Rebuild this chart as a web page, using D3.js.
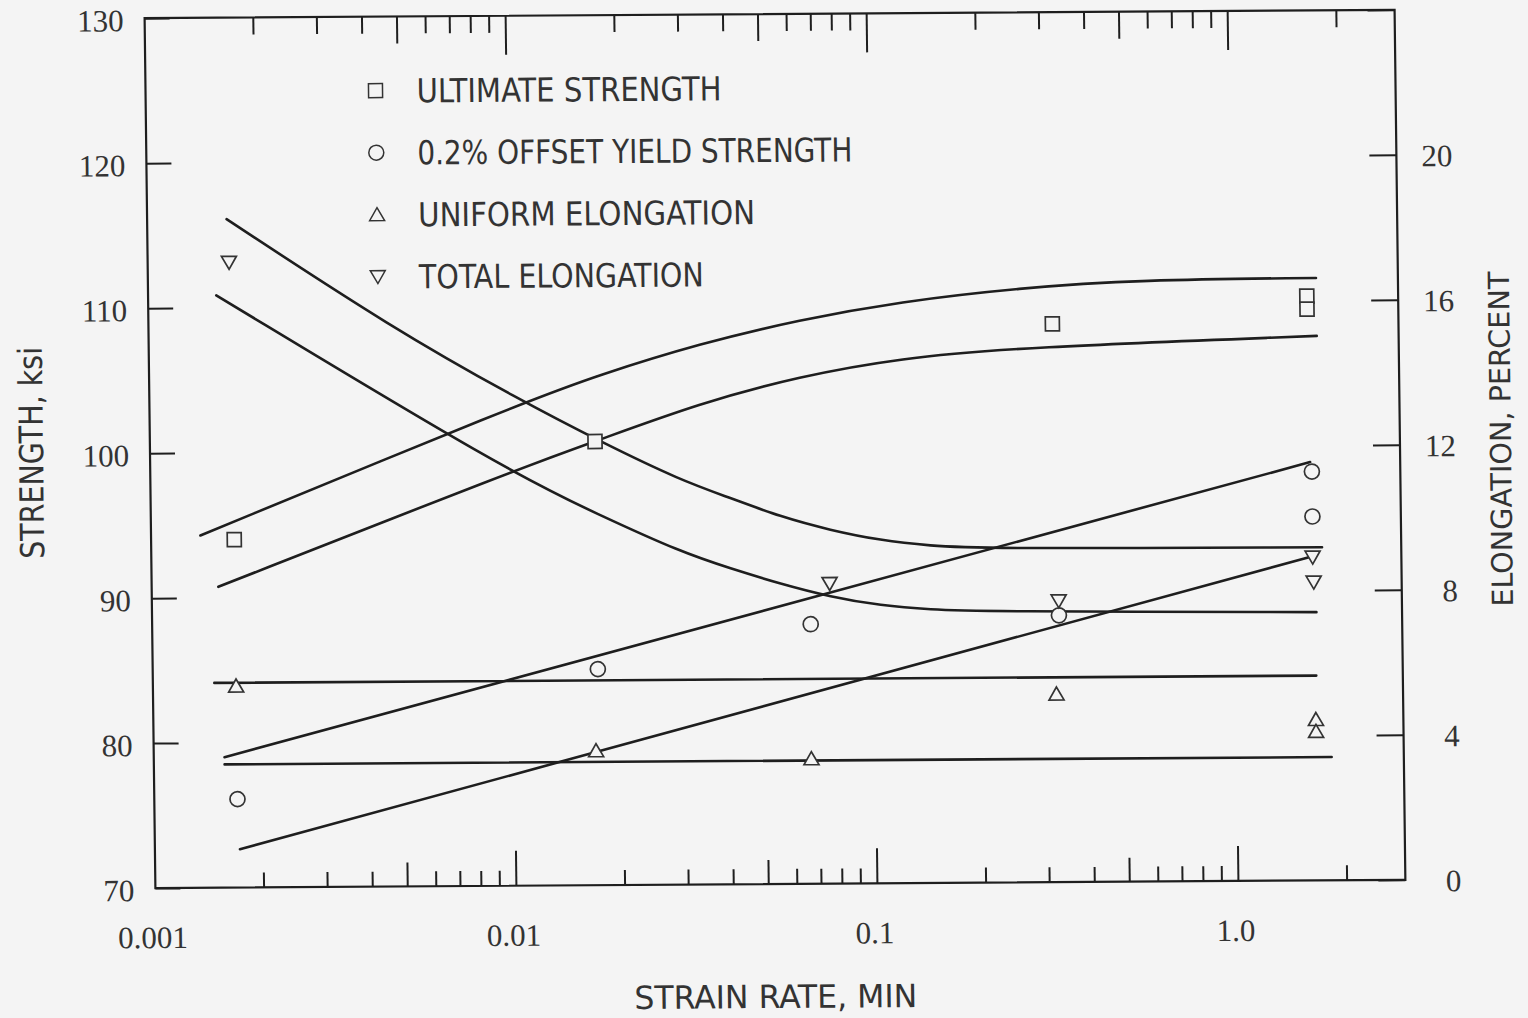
<!DOCTYPE html>
<html>
<head>
<meta charset="utf-8">
<script src="https://cdn.jsdelivr.net/npm/d3@7"></script>
<style>
  html, body { margin: 0; padding: 0; background: #f4f4f4; }
  svg { display: block; }
</style>
</head>
<body>
<svg id="chart" width="1528" height="1018"></svg>
<script>
// ---- axis ticks and labels ----
const xTickValues = [0.001, 0.01, 0.1, 1.0];
const xTickLabels = ["0.001", "0.01", "0.1", "1.0"];
const ksiTicks = [70, 80, 90, 100, 110, 120, 130];
const elongTicks = [0, 4, 8, 12, 16, 20, 24];
const elongLabels = ["0", "4", "8", "12", "16", "20", ""];

// ---- measured points (strain rate, 1/min) ----
const ultimateRate = [0.0017, 0.0171, 0.319, 1.62, 1.62];
const ultimateKsi  = [94.0, 100.6, 108.5, 110.3, 109.4];
const yieldRate    = [0.0017, 0.0171, 0.0667, 0.325, 1.65, 1.65];
const yieldKsi     = [76.1, 84.9, 87.9, 88.4, 98.2, 95.1];
const uniformRate  = [0.0017, 0.0168, 0.0663, 0.318, 1.66, 1.66];
const uniformPct   = [5.56, 3.71, 3.45, 5.19, 4.44, 4.11];
const totalRate    = [0.00168, 0.0755, 0.325, 1.647, 1.655];
const totalPct     = [17.25, 8.28, 7.76, 8.92, 8.23];

// ---- scatter-band curves: [strain rate, value] ----
const ultimateUpper = [[0.00137, 94.3], [0.01076, 103.3], [0.0177, 105.2], [0.0336, 107.3],
  [0.0636, 108.9], [0.1205, 110.1], [0.259, 111.0], [0.557, 111.5], [1.72, 111.55]];
const ultimateLower = [[0.00153, 90.75], [0.01058, 98.8], [0.0171, 100.6], [0.0335, 103.2],
  [0.0634, 105.0], [0.120, 106.2], [0.258, 106.9], [1.72, 107.55]];
const yieldUpper = [[0.00157, 79.0], [1.633, 98.85]];
const yieldLower = [[0.00172, 72.64], [1.647, 92.36]];
const totalUpper = [[0.00166, 18.44], [0.00474, 15.4], [0.01062, 13.4], [0.01798, 12.2],
  [0.02935, 11.16], [0.04033, 10.66], [0.05543, 10.13], [0.07621, 9.75], [0.1047, 9.46],
  [0.144, 9.30], [0.1982, 9.21], [1.75, 9.19]];
const totalLower = [[0.001545, 16.34], [0.00973, 11.44], [0.01759, 10.2], [0.02923, 9.18],
  [0.04021, 8.71], [0.05522, 8.28], [0.07591, 7.91], [0.1044, 7.66], [0.1437, 7.54],
  [0.1975, 7.48], [1.68, 7.4]];
const uniformUpper = [[0.00148, 5.65], [1.67, 5.65]];
const uniformLower = [[0.00157, 3.4], [1.83, 3.4]];

const legendLabels = ["ULTIMATE STRENGTH", "0.2% OFFSET YIELD STRENGTH", "UNIFORM ELONGATION", "TOTAL ELONGATION"];
const legendWidths = [305, 435, 337, 285];

// ---- layout ----
const W = 1528, H = 1018;
const plotL = 150, plotR = 1400, plotT = 14, plotB = 884;
const ink = "#1e1e1e", textInk = "#333333", bg = "#f4f4f4";
const sansFont = "'Liberation Sans Narrow','DejaVu Sans Condensed','Liberation Sans',Arial,sans-serif";
const serifFont = "'Liberation Serif','DejaVu Serif',serif";

const x = d3.scaleLog().domain([0.001, 2.9]).range([plotL, plotR]);
const y = d3.scaleLinear().domain([70, 130]).range([plotB, plotT]);
const yE = d3.scaleLinear().domain([0, 24]).range([plotB, plotT]);

const svg = d3.select("#chart");
svg.append("rect").attr("width", W).attr("height", H).attr("fill", bg);

// the printed sheet sits slightly tilted and sheared
const g = svg.append("g")
  .attr("transform", "rotate(-0.38 774 450) translate(774 450) skewX(0.33) translate(-774 -450)");

// frame
g.append("rect")
  .attr("x", plotL).attr("y", plotT)
  .attr("width", plotR - plotL).attr("height", plotB - plotT)
  .attr("fill", "none").attr("stroke", ink).attr("stroke-width", 2.2);

// log ticks on bottom and top edges
const logTicks = x.ticks().filter(t => t > 0.0011);
function mantissa(t) { return Math.round(t / Math.pow(10, Math.floor(Math.log10(t) + 1e-9))); }
const bottomLen = t => { const m = mantissa(t); return m === 1 ? 35 : m === 5 ? 24 : 15; };
const topLen = t => { const m = mantissa(t); return m === 1 ? 39 : m === 5 ? 27 : 17; };

g.append("g").selectAll("line").data(logTicks).join("line")
  .attr("x1", d => x(d)).attr("x2", d => x(d))
  .attr("y1", plotB).attr("y2", d => plotB - bottomLen(d))
  .attr("stroke", ink).attr("stroke-width", 2);
g.append("g").selectAll("line").data(logTicks).join("line")
  .attr("x1", d => x(d)).attr("x2", d => x(d))
  .attr("y1", plotT).attr("y2", d => plotT + topLen(d))
  .attr("stroke", ink).attr("stroke-width", 2);

// x labels
g.append("g").selectAll("text").data(xTickValues).join("text")
  .attr("x", d => x(d) - 3).attr("y", 944)
  .attr("text-anchor", "middle")
  .attr("font-family", serifFont).attr("font-size", 31).attr("fill", textInk)
  .text((d, i) => xTickLabels[i]);

// left axis: inward ticks + labels
const leftAxis = d3.axisLeft(y).tickValues(ksiTicks).tickSize(-25).tickPadding(21)
  .tickFormat(d3.format("d"));
const la = g.append("g").attr("transform", `translate(${plotL},0)`).call(leftAxis);
la.select(".domain").remove();
la.selectAll(".tick line").attr("stroke", ink).attr("stroke-width", 2);
la.selectAll(".tick text").attr("font-family", serifFont).attr("font-size", 31)
  .attr("fill", textInk).attr("text-anchor", "end").attr("x", -21).attr("dy", "0.4em");

// right axis: inward ticks + labels
const rightAxis = d3.axisRight(yE).tickValues(elongTicks).tickSize(-27).tickPadding(56)
  .tickFormat((d, i) => elongLabels[i]);
const ra = g.append("g").attr("transform", `translate(${plotR},0)`).call(rightAxis);
ra.select(".domain").remove();
ra.selectAll(".tick line").attr("stroke", ink).attr("stroke-width", 2);
ra.selectAll(".tick text").attr("font-family", serifFont).attr("font-size", 31)
  .attr("fill", textInk).attr("text-anchor", "end").attr("x", 56).attr("dy", "0.36em");

// axis titles
g.append("text").attr("x", 769).attr("y", 1008)
  .attr("text-anchor", "middle").attr("font-family", sansFont).attr("font-size", 32)
  .attr("fill", textInk).attr("textLength", 283).attr("lengthAdjust", "spacingAndGlyphs")
  .text("STRAIN RATE,  MIN");
g.append("text").attr("transform", "translate(43,448) rotate(-90)")
  .attr("text-anchor", "middle").attr("font-family", sansFont).attr("font-size", 33)
  .attr("fill", textInk).attr("textLength", 212).attr("lengthAdjust", "spacingAndGlyphs")
  .text("STRENGTH,  ksi");
g.append("text").attr("transform", "translate(1511,444) rotate(-90)")
  .attr("text-anchor", "middle").attr("font-family", sansFont).attr("font-size", 29)
  .attr("fill", textInk).attr("textLength", 335).attr("lengthAdjust", "spacingAndGlyphs")
  .text("ELONGATION,  PERCENT");

// curves (smoothed B-spline through the read-off points)
const smooth = d3.curveBasis;
const lineKsi = d3.line().x(d => x(d[0])).y(d => y(d[1])).curve(smooth);
const linePct = d3.line().x(d => x(d[0])).y(d => yE(d[1])).curve(smooth);
const curves = g.append("g").attr("fill", "none").attr("stroke", ink)
  .attr("stroke-width", 2.6).attr("stroke-linecap", "round");
[ultimateUpper, ultimateLower, yieldUpper, yieldLower].forEach(c =>
  curves.append("path").attr("d", lineKsi(c)));
[totalUpper, totalLower, uniformUpper, uniformLower].forEach(c =>
  curves.append("path").attr("d", linePct(c)));

// marker shapes
const shapes = {
  square: "M-7,-7H7V7H-7Z",
  circle: d3.symbol(d3.symbolCircle, Math.PI * 7.5 * 7.5)(),
  up: "M0,-7L7.5,6L-7.5,6Z",
  down: "M-7.5,-6L7.5,-6L0,7Z"
};
function drawMarkers(rates, vals, scale, shape) {
  g.append("g").selectAll("path").data(rates).join("path")
    .attr("transform", (d, i) => `translate(${x(d)},${scale(vals[i])})`)
    .attr("d", shapes[shape])
    .attr("fill", bg).attr("stroke", "#333").attr("stroke-width", 1.7);
}
drawMarkers(ultimateRate, ultimateKsi, y, "square");
drawMarkers(yieldRate, yieldKsi, y, "circle");
drawMarkers(uniformRate, uniformPct, yE, "up");
drawMarkers(totalRate, totalPct, yE, "down");

// legend
const legendShapes = ["square", "circle", "up", "down"];
const legendRowY = d => 88 + d * 62;
const lg = g.append("g");
legendLabels.forEach((lab, i) => {
  lg.append("path").attr("transform", `translate(380,${legendRowY(i)})`)
    .attr("d", shapes[legendShapes[i]])
    .attr("fill", bg).attr("stroke", "#333").attr("stroke-width", 1.5);
  lg.append("text").attr("x", 421).attr("y", legendRowY(i) + 12)
    .attr("font-family", sansFont).attr("font-size", 33).attr("fill", textInk)
    .attr("textLength", legendWidths[i]).attr("lengthAdjust", "spacingAndGlyphs")
    .text(lab);
});
</script>
</body>
</html>
